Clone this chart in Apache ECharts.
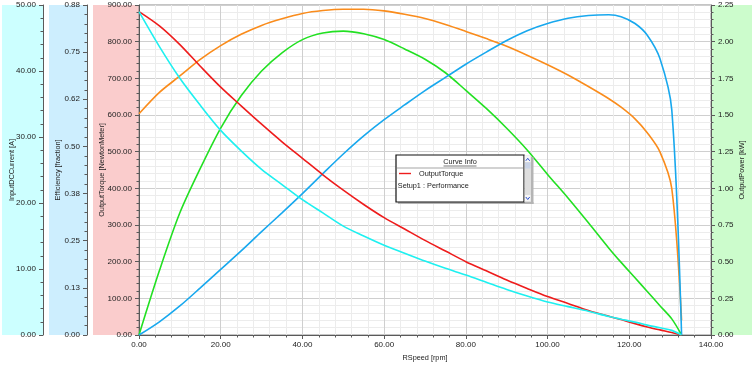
<!DOCTYPE html>
<html>
<head>
<meta charset="utf-8">
<script src="https://cdn.jsdelivr.net/npm/echarts@6/dist/echarts.min.js"></script>
<style>
html,body{margin:0;padding:0;background:#fff;}
#chart{width:752px;height:366px;}
</style>
</head>
<body>
<div id="chart"></div>
<script>
// ---- Data ----
const speed = [0,5,10,15,20,25,30,35,40,45,50,55,60,65,70,75,80,85,90,95,100,105,110,115,118,121.4,124.4,127.5,130.4,132.8];
// OutputTorque [NewtonMeter]
const outputTorque = [882,843,792,733,676,625,575,527,482,437,395,356,320,289,258,229,200,175,150,127,105,86,67,51,42,31,22,14,7,0];
// InputDCCurrent [A]
const inputDCCurrent = [49.0,43.7,38.9,34.8,31.0,27.9,25.1,22.8,20.5,18.5,16.5,15.0,13.6,12.4,11.2,10.1,9.1,8.0,6.9,5.9,5.0,4.3,3.6,2.8,2.4,1.95,1.5,1.1,0.7,0];
// Efficiency [fraction]
const efficiency = [0,0.035,0.077,0.125,0.174,0.223,0.274,0.324,0.375,0.428,0.480,0.528,0.571,0.610,0.648,0.683,0.718,0.750,0.781,0.807,0.826,0.840,0.847,0.849,0.844,0.826,0.795,0.733,0.597,0];
// OutputPower [kW]
const outputPower = [0,0.439,0.833,1.136,1.411,1.631,1.800,1.924,2.014,2.059,2.072,2.054,2.014,1.950,1.880,1.788,1.668,1.545,1.410,1.262,1.095,0.934,0.765,0.592,0.495,0.390,0.297,0.200,0.110,0];
// fifth curve (orange), read on the kW axis
const curve5 = [1.508,1.654,1.766,1.879,1.973,2.050,2.111,2.156,2.192,2.212,2.221,2.221,2.210,2.187,2.158,2.117,2.070,2.021,1.969,1.908,1.843,1.773,1.694,1.611,1.553,1.474,1.379,1.249,0.999,0.101];

// ---- Tick labels ----
const speedTicks = ['0.00','20.00','40.00','60.00','80.00','100.00','120.00','140.00'];
const torqueTicks = ['0.00','100.00','200.00','300.00','400.00','500.00','600.00','700.00','800.00','900.00'];
const currentTicks = ['0.00','10.00','20.00','30.00','40.00','50.00'];
const effTicks = ['0.00','0.13','0.25','0.38','0.50','0.62','0.75','0.88'];
const powerTicks = ['0.00','0.25','0.50','0.75','1.00','1.25','1.50','1.75','2.00','2.25'];

const FONT = 'Liberation Sans, Arial, sans-serif';
const pairs = (ys) => speed.map((s, i) => [s, ys[i]]);
const fmt = (ticks, step) => (v) => { const k = Math.round(v / step); return ticks[k] !== undefined ? ticks[k] : ''; };

const axisCommon = {
  type: 'value',
  axisLine: { show: true, lineStyle: { color: '#5a5a5a', width: 1 } },
  axisTick: { show: true, length: 4, lineStyle: { color: '#5a5a5a' } },
  minorTick: { show: true, splitNumber: 5, length: 2.5, lineStyle: { color: '#5a5a5a' } },
  axisLabel: { fontFamily: FONT, fontSize: 8, color: '#222', margin: 7 },
  nameLocation: 'middle',
  nameRotate: 90,
  nameMoveOverlap: false,
  nameTextStyle: { fontFamily: FONT, fontSize: 7.3, color: '#222' },
  splitLine: { show: false }
};

const lineSeries = (name, axis, ys, color) => ({
  name, type: 'line', yAxisIndex: axis, data: pairs(ys), showSymbol: false,
  smooth: 0.3,
  lineStyle: { color, width: 1.6 }, itemStyle: { color }
});

const chart = echarts.init(document.getElementById('chart'), null, { renderer: 'canvas' });
chart.setOption({
  animation: false,
  backgroundColor: '#ffffff',
  grid: { left: 139, right: 41, top: 5, bottom: 31, outerBoundsMode: 'none', containLabel: false, show: true, borderColor: '#8a8a8a', borderWidth: 1, backgroundColor: '#ffffff' },
  graphic: [
    { type: 'rect', z: -10, silent: true, shape: { x: 2, y: 5, width: 41, height: 330 }, style: { fill: '#ccffff' } },
    { type: 'rect', z: -10, silent: true, shape: { x: 49, y: 5, width: 38, height: 330 }, style: { fill: '#cdeefe' } },
    { type: 'rect', z: -10, silent: true, shape: { x: 93, y: 5, width: 46, height: 330 }, style: { fill: '#facccc' } },
    { type: 'rect', z: -10, silent: true, shape: { x: 711, y: 5, width: 41, height: 330 }, style: { fill: '#ccfccc' } },
    // Curve Info box
    { type: 'rect', z: 100, silent: true, shape: { x: 531, y: 157, width: 2.5, height: 47 }, style: { fill: '#b4b4b4' } },
    { type: 'rect', z: 100, silent: true, shape: { x: 398, y: 202, width: 135.5, height: 2 }, style: { fill: '#b4b4b4' } },
    { type: 'rect', z: 101, silent: true, shape: { x: 396, y: 155, width: 128, height: 47 }, style: { fill: '#ffffff', stroke: '#111', lineWidth: 1.2 } },
    { type: 'line', z: 102, silent: true, shape: { x1: 397, y1: 168, x2: 523, y2: 168 }, style: { stroke: '#d2d2d2', lineWidth: 1.8 } },
    { type: 'text', z: 103, silent: true, style: { text: 'Curve Info', x: 460, y: 161.5, fontFamily: FONT, fontSize: 7.3, fill: '#222', align: 'center', verticalAlign: 'middle' } },
    { type: 'line', z: 103, silent: true, shape: { x1: 443.5, y1: 166, x2: 476.5, y2: 166 }, style: { stroke: '#444', lineWidth: 0.7 } },
    { type: 'text', z: 103, silent: true, style: { text: 'Setup1 : Performance', x: 397.8, y: 186, fontFamily: FONT, fontSize: 7.3, fill: '#222', align: 'left', verticalAlign: 'middle' } },
    // scrollbar
    { type: 'rect', z: 102, silent: true, shape: { x: 524.5, y: 155.5, width: 6.5, height: 46.5 }, style: { fill: '#dedede' } },
    { type: 'rect', z: 103, silent: true, shape: { x: 525, y: 156, width: 5.5, height: 6 }, style: { fill: '#f6f6f6' } },
    { type: 'polyline', z: 104, silent: true, shape: { points: [[525.8, 160.8], [527.75, 158.3], [529.7, 160.8]] }, style: { stroke: '#2a4fd0', lineWidth: 1, fill: null } },
    { type: 'rect', z: 103, silent: true, shape: { x: 525, y: 162.5, width: 5.5, height: 6 }, style: { fill: '#c9d3e6' } },
    { type: 'rect', z: 103, silent: true, shape: { x: 525, y: 195, width: 5.5, height: 6 }, style: { fill: '#f6f6f6' } },
    { type: 'polyline', z: 104, silent: true, shape: { points: [[525.8, 197], [527.75, 199.5], [529.7, 197]] }, style: { stroke: '#2a4fd0', lineWidth: 1, fill: null } }
  ],
  legend: {
    show: true, z: 110, selectedMode: false,
    data: [{ name: 'OutputTorque', icon: 'rect' }],
    left: 399, top: 170, padding: 0,
    itemWidth: 12, itemHeight: 1.4,
    textStyle: { fontFamily: FONT, fontSize: 7.3, color: '#222', padding: [0, 0, 0, 3] }
  },
  xAxis: Object.assign({}, axisCommon, {
    min: 0, max: 140, interval: 20,
    nameRotate: 0,
    name: 'RSpeed [rpm]', nameGap: 19,
    axisLabel: Object.assign({}, axisCommon.axisLabel, { margin: 6, formatter: fmt(speedTicks, 20) }),
    splitLine: { show: true, lineStyle: { color: '#cfcfcf', width: 1 } },
    minorSplitLine: { show: true, lineStyle: { color: '#ececec', width: 1 } }
  }),
  yAxis: [
    Object.assign({}, axisCommon, {
      position: 'left', offset: 0, min: 0, max: 900, interval: 100,
      name: 'OutputTorque [NewtonMeter]', nameGap: 34,
      axisLabel: Object.assign({}, axisCommon.axisLabel, { formatter: fmt(torqueTicks, 100) }),
      splitLine: { show: true, lineStyle: { color: '#cfcfcf', width: 1 } },
      minorSplitLine: { show: true, lineStyle: { color: '#ececec', width: 1 } }
    }),
    Object.assign({}, axisCommon, {
      position: 'left', offset: 52, min: 0, max: 0.875, interval: 0.125,
      name: 'Efficiency [fraction]', nameGap: 26,
      axisLabel: Object.assign({}, axisCommon.axisLabel, { formatter: fmt(effTicks, 0.125) })
    }),
    Object.assign({}, axisCommon, {
      position: 'left', offset: 96, min: 0, max: 50, interval: 10,
      name: 'InputDCCurrent [A]', nameGap: 28,
      axisLabel: Object.assign({}, axisCommon.axisLabel, { formatter: fmt(currentTicks, 10) })
    }),
    Object.assign({}, axisCommon, {
      position: 'right', offset: 0, min: 0, max: 2.25, interval: 0.25,
      name: 'OutputPower [kW]', nameGap: 27,
      axisLabel: Object.assign({}, axisCommon.axisLabel, { formatter: fmt(powerTicks, 0.25) })
    })
  ],
  series: [
    lineSeries('Curve5', 3, curve5, '#fa8c1c'),
    lineSeries('OutputPower', 3, outputPower, '#22e022'),
    lineSeries('Efficiency', 1, efficiency, '#18a8ee'),
    lineSeries('OutputTorque', 0, outputTorque, '#ee1c1c'),
    lineSeries('InputDCCurrent', 2, inputDCCurrent, '#1ef0f0')
  ]
});
</script>
</body>
</html>
